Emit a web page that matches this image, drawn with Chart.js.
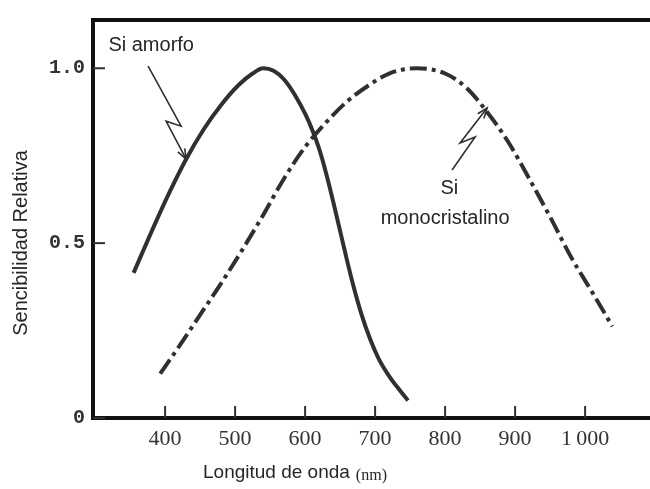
<!DOCTYPE html>
<html>
<head>
<meta charset="utf-8">
<script src="https://cdn.jsdelivr.net/npm/chart.js@4/dist/chart.umd.min.js"></script>
<style>
  html, body { margin: 0; padding: 0; background: #fff; overflow: hidden; }
  #caja { width: 670px; height: 489px; }
</style>
</head>
<body>
<div id="caja"><canvas id="grafico"></canvas></div>
<script>
// Si amorfo: longitud de onda (nm) y sensibilidad relativa
const amorfoNm   = [355, 380, 405, 430, 455, 480, 505, 525, 540, 555, 570, 585, 600, 610, 620, 630, 640, 650, 660, 670, 680, 693, 705, 720, 735, 747];
const amorfoSens = [0.415, 0.53, 0.64, 0.74, 0.825, 0.895, 0.952, 0.985, 1.0, 0.993, 0.968, 0.925, 0.87, 0.825, 0.77, 0.70, 0.62, 0.535, 0.45, 0.37, 0.30, 0.225, 0.17, 0.12, 0.08, 0.05];

// Si monocristalino
const monoNm   = [393, 420, 450, 480, 510, 540, 570, 600, 630, 660, 690, 720, 760, 800, 830, 860, 890, 920, 950, 980, 1010, 1039];
const monoSens = [0.127, 0.205, 0.295, 0.385, 0.48, 0.58, 0.685, 0.775, 0.845, 0.905, 0.95, 0.985, 1.0, 0.985, 0.945, 0.875, 0.79, 0.685, 0.575, 0.46, 0.36, 0.262];

// ejes
const ticksX     = [400, 500, 600, 700, 800, 900, 1000];
const etiquetasX = ['400', '500', '600', '700', '800', '900', '1\u2009000'];
const ticksY     = [0, 0.5, 1.0];
const etiquetasY = ['0', '0.5', '1.0'];

const GRIS = '#303030';

function puntos(xs, ys) {
  return xs.map((x, i) => ({ x: x, y: ys[i] }));
}

// flecha en zigzag, coordenadas relativas a la punta
function flecha(ctx, px, py, tramo) {
  ctx.beginPath();
  ctx.moveTo(px + tramo[0][0], py + tramo[0][1]);
  for (let i = 1; i < tramo.length; i++) {
    ctx.lineTo(px + tramo[i][0], py + tramo[i][1]);
  }
  ctx.lineTo(px, py);
  ctx.stroke();
  // cabeza abierta
  const [ax, ay] = tramo[tramo.length - 1];
  const ang = Math.atan2(-ay, -ax);
  const L = 11, abre = 0.36;
  ctx.beginPath();
  ctx.moveTo(px - L * Math.cos(ang - abre), py - L * Math.sin(ang - abre));
  ctx.lineTo(px, py);
  ctx.lineTo(px - L * Math.cos(ang + abre), py - L * Math.sin(ang + abre));
  ctx.stroke();
}

const detalles = {
  id: 'detalles',
  afterDraw(chart) {
    const ctx = chart.ctx;
    const a = chart.chartArea;
    const x = chart.scales.x;
    const y = chart.scales.y;
    ctx.save();

    // marco superior
    ctx.strokeStyle = '#111';
    ctx.lineWidth = 4;
    ctx.beginPath();
    ctx.moveTo(a.left - 2, a.top);
    ctx.lineTo(a.right + 2, a.top);
    ctx.stroke();

    // marcas hacia adentro
    ctx.strokeStyle = GRIS;
    ctx.lineWidth = 2;
    ticksX.forEach(v => {
      const px = x.getPixelForValue(v);
      ctx.beginPath();
      ctx.moveTo(px, a.bottom);
      ctx.lineTo(px, a.bottom - 12);
      ctx.stroke();
    });
    ticksY.forEach(v => {
      const py = y.getPixelForValue(v);
      ctx.beginPath();
      ctx.moveTo(a.left, py);
      ctx.lineTo(a.left + 12, py);
      ctx.stroke();
    });

    // flechas
    ctx.lineWidth = 1.6;
    ctx.lineJoin = 'miter';
    flecha(ctx, x.getPixelForValue(430), y.getPixelForValue(0.74),
      [[-38, -93], [-5, -33], [-20, -38]]);
    flecha(ctx, x.getPixelForValue(860), y.getPixelForValue(0.875) - 4,
      [[-35, 62], [-12, 29], [-27, 35]]);

    // textos
    ctx.fillStyle = '#262626';
    ctx.font = '20px "Liberation Sans", Arial, sans-serif';
    ctx.textBaseline = 'alphabetic';
    ctx.textAlign = 'left';
    ctx.fillText('Si amorfo', x.getPixelForValue(319), y.getPixelForValue(1.048));
    ctx.textAlign = 'center';
    ctx.fillText('Si', x.getPixelForValue(806), y.getPixelForValue(0.64));
    ctx.fillText('monocristalino', x.getPixelForValue(800), y.getPixelForValue(0.555));

    // título del eje y
    ctx.save();
    ctx.translate(27, 243);
    ctx.rotate(-Math.PI / 2);
    ctx.textAlign = 'center';
    ctx.fillText('Sencibilidad Relativa', 0, 0);
    ctx.restore();

    // título del eje x
    ctx.textAlign = 'left';
    ctx.font = '19px "Liberation Sans", Arial, sans-serif';
    const t1 = 'Longitud de onda';
    ctx.fillText(t1, 203, 478);
    const w1 = ctx.measureText(t1).width;
    ctx.font = '16px "Liberation Serif", "Times New Roman", serif';
    ctx.fillText('(nm)', 203 + w1 + 6, 480);

    ctx.restore();
  }
};

new Chart(document.getElementById('grafico'), {
  type: 'line',
  data: {
    datasets: [
      {
        label: 'Si amorfo',
        data: puntos(amorfoNm, amorfoSens),
        borderColor: GRIS,
        borderWidth: 4,
        pointRadius: 0,
        cubicInterpolationMode: 'monotone',
        fill: false
      },
      {
        label: 'Si monocristalino',
        data: puntos(monoNm, monoSens),
        borderColor: GRIS,
        borderWidth: 4,
        borderDash: [17, 5, 4, 5],
        pointRadius: 0,
        cubicInterpolationMode: 'monotone',
        fill: false
      }
    ]
  },
  options: {
    responsive: true,
    maintainAspectRatio: false,
    animation: false,
    layout: { padding: { top: 14, right: 10, left: 0, bottom: 0 } },
    plugins: {
      legend: { display: false },
      tooltip: { enabled: false }
    },
    scales: {
      x: {
        type: 'linear',
        min: 297,
        max: 1107,
        afterBuildTicks: s => { s.ticks = ticksX.map(v => ({ value: v })); },
        afterFit: s => { s.height = 71; },
        grid: { display: false, drawTicks: false },
        border: { display: true, width: 4, color: '#111' },
        ticks: {
          autoSkip: false,
          maxRotation: 0,
          padding: 8,
          color: '#333',
          font: { family: '"Liberation Serif", "Times New Roman", serif', size: 22 },
          callback: v => etiquetasX[ticksX.indexOf(v)]
        }
      },
      y: {
        type: 'linear',
        min: 0,
        max: 1.138,
        afterBuildTicks: s => { s.ticks = ticksY.map(v => ({ value: v })); },
        afterFit: s => { s.width = 93; },
        grid: { display: false, drawTicks: false },
        border: { display: true, width: 4, color: '#111' },
        ticks: {
          padding: 8,
          color: '#333',
          font: { family: '"Liberation Mono", "Courier New", monospace', size: 20, weight: 'bold' },
          callback: v => etiquetasY[ticksY.indexOf(v)]
        }
      }
    }
  },
  plugins: [detalles]
});
</script>
</body>
</html>
